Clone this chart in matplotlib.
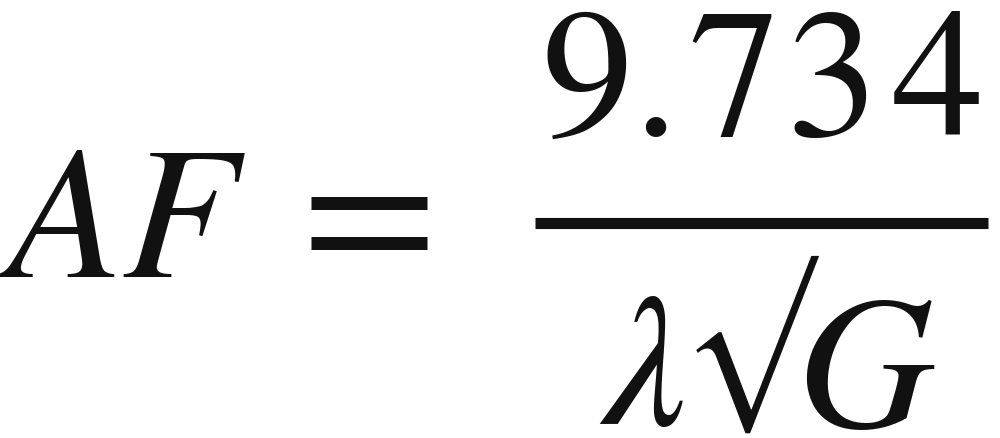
import matplotlib.pyplot as plt
from matplotlib.font_manager import FontProperties
from matplotlib.textpath import TextPath

# formula pieces: AF = 9.734 / (lambda sqrt(G))
lhs = "AF"
equals = "="
numerator = "9.734"
denominator = ["\u03bb", "\u221a", "G"]

ink_color = '#111111'
italic = FontProperties(family='STIXGeneral', style='italic')
upright = FontProperties(family='STIXGeneral')

fig = plt.figure(figsize=(10, 4.38), dpi=100)
ax = fig.add_axes([0, 0, 1, 1])
ax.set_xlim(0, 1000)
ax.set_ylim(438, 0)   # one data unit = one pixel, y downwards
ax.axis('off')


def put(s, fp, left, right, top, bottom, fit='height'):
    # size the glyphs so their ink fills the box seen in the reference
    ext = TextPath((0, 0), s, size=100, prop=fp).get_extents()
    if fit == 'height':
        k = (bottom - top) / ext.height
        base = bottom + ext.y0 * k
    else:
        k = (right - left) / ext.width
        base = (top + bottom) / 2 + (ext.y0 + ext.y1) / 2 * k
    x = (left + right) / 2 - (ext.x0 + ext.x1) / 2 * k
    ax.text(x, base, s, fontproperties=fp, fontsize=k * 72,
            ha='left', va='baseline', color=ink_color)


put(lhs, italic, 5, 238, 150, 277)
put(equals, upright, 311, 427, 198, 250, fit='width')

# fraction bar
ax.hlines(222.5, 535, 988, color=ink_color, linewidth=8)

# numerator, one glyph at a time (reference font spaces them tighter)
num_boxes = [(543, 630, 7, 135), (644, 666, 112, 134), (690, 772, 7, 135),
             (792, 868, 7, 135), (890, 982, 7, 134)]
num_ext = TextPath((0, 0), "9734", size=100, prop=upright).get_extents()
num_k = 128 / num_ext.height
for ch, (l, r, t, b) in zip(numerator, num_boxes):
    ext = TextPath((0, 0), ch, size=100, prop=upright).get_extents()
    x = (l + r) / 2 - (ext.x0 + ext.x1) / 2 * num_k
    ax.text(x, 135, ch, fontproperties=upright, fontsize=num_k * 72,
            ha='left', va='baseline', color=ink_color)

# denominator
put(denominator[0], italic, 588, 692, 297, 427)
put(denominator[1], upright, 692, 823, 255, 433)
put(denominator[2], italic, 822, 918, 300, 430)

fig.savefig('out.png', dpi=100)
